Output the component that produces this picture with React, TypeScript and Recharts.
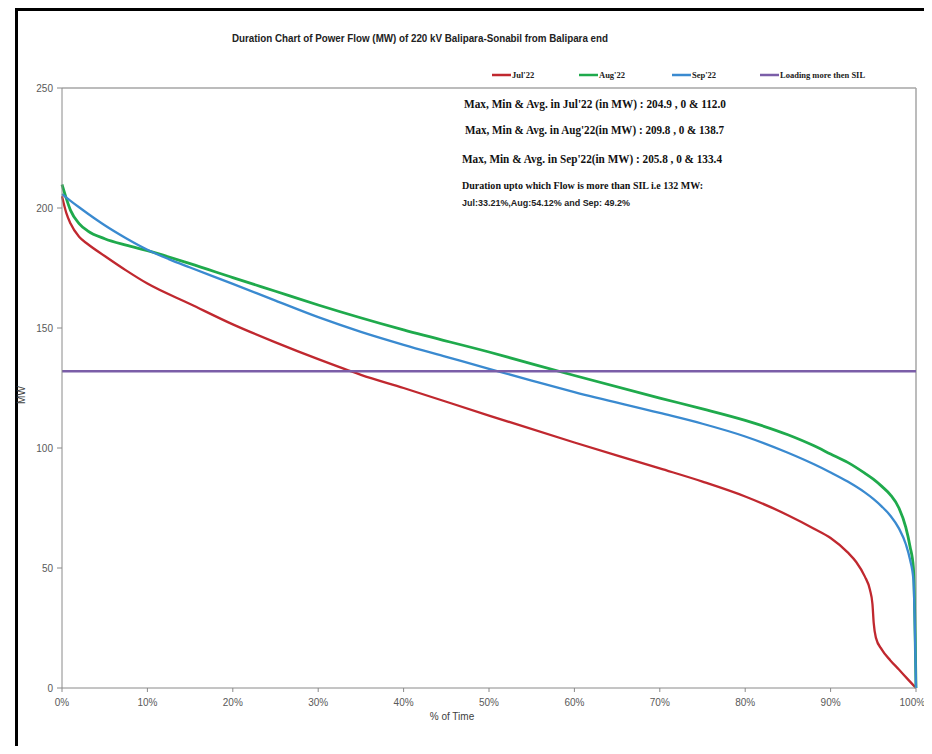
import { LineChart, Line, XAxis, YAxis, ReferenceLine } from 'recharts'

const julPct = [0, 0.5, 1, 2, 3, 5, 7.5, 10, 15, 20, 25, 30, 35, 40, 50, 60, 70, 75, 80, 85, 88, 90, 92, 93, 94, 94.6, 94.9, 95.05, 95.3, 96, 97, 98, 99, 100]
const julMw = [204.9, 198, 193.5, 188, 185, 180, 174, 168.5, 160, 151.5, 144, 137, 130.5, 125, 113.5, 102.3, 91.5, 86, 79.8, 72, 66.5, 62.5, 56.5, 52.5, 46.5, 41, 35, 27, 21, 16, 11.5, 7.7, 3.8, 0]

const augPct = [0, 0.5, 1, 2, 3, 5, 7.5, 10, 15, 20, 25, 30, 40, 50, 60, 70, 75, 80, 85, 88, 90, 92, 94, 95, 96, 97, 98, 98.8, 99.3, 99.7, 100]
const augMw = [209.8, 204, 199, 193.5, 190.5, 187.2, 184.5, 182.2, 176.8, 171, 165.3, 159.6, 149.2, 140, 130.2, 120.8, 116.3, 111.5, 105.5, 101, 97.5, 94, 89.5, 87, 84, 80.5, 75, 67, 59, 50, 0]

const sepPct = [0, 1, 2, 3, 4, 5, 7.5, 10, 12.5, 15, 20, 25, 30, 35, 40, 45, 50, 55, 60, 70, 75, 80, 85, 88, 90, 92, 94, 95, 96, 97, 98, 98.8, 99.3, 99.7, 100]
const sepMw = [205.8, 203, 200.3, 197.7, 195.2, 192.8, 187.4, 182.6, 178.7, 175.2, 168.4, 161.4, 154.5, 148.4, 143, 138, 133, 128.1, 123.3, 114.6, 110.1, 104.8, 98, 93.3, 89.8, 86, 81.5, 78.8, 75.6, 71.8, 66.5, 60, 53.5, 45, 0]

const silPct = [0, 100]
const silMw = [132, 132]

const xTicks = [0, 10, 20, 30, 40, 50, 60, 70, 80, 90, 100]
const yTicks = [0, 50, 100, 150, 200, 250]

const toRows = (xs: number[], ys: number[]) => xs.map((x, i) => ({ x, y: ys[i] }))

const julData = toRows(julPct, julMw)
const augData = toRows(augPct, augMw)
const sepData = toRows(sepPct, sepMw)
const silData = toRows(silPct, silMw)

const RED = '#c0282f'
const GREEN = '#1faa4c'
const BLUE = '#3a8ad0'
const PURPLE = '#7b5ea8'

const legendItems = [
  { label: "Jul'22", color: RED, x: 484 },
  { label: "Aug'22", color: GREEN, x: 571 },
  { label: "Sep'22", color: BLUE, x: 664 },
  { label: 'Loading more then SIL', color: PURPLE, x: 752 },
]

const tickStyle = { fill: '#595959', fontSize: 10, fontFamily: 'Liberation Sans, Arial, sans-serif' }

export default function App() {
  // container sits at the very top of the page (body margin cancelled) so the frame fits
  return (
    <div style={{ position: 'relative', width: 916, height: 746, marginTop: -8, background: '#fff' }}>
      <LineChart width={916} height={746} margin={{ top: 88, right: 8, bottom: 28, left: 14 }}>
        <XAxis
          type="number"
          dataKey="x"
          domain={[0, 100]}
          ticks={xTicks}
          tickFormatter={(v) => `${v}%`}
          height={30}
          stroke="#8a8a8a"
          tickSize={4}
          tickMargin={7}
          tick={tickStyle}
          allowDuplicatedCategory={false}
        />
        <YAxis
          type="number"
          domain={[0, 250]}
          ticks={yTicks}
          width={40}
          stroke="#8a8a8a"
          tickSize={5}
          tickMargin={4}
          tick={tickStyle}
        />
        <ReferenceLine y={250} stroke="#a6a6a6" strokeWidth={1.5} />
        <ReferenceLine x={100} stroke="#a6a6a6" strokeWidth={1.5} />
        <Line data={julData} dataKey="y" type="monotone" stroke={RED} strokeWidth={2.3} dot={false} isAnimationActive={false} />
        <Line data={augData} dataKey="y" type="monotone" stroke={GREEN} strokeWidth={2.8} dot={false} isAnimationActive={false} />
        <Line data={sepData} dataKey="y" type="monotone" stroke={BLUE} strokeWidth={2.3} dot={false} isAnimationActive={false} />
        <Line data={silData} dataKey="y" type="linear" stroke={PURPLE} strokeWidth={2.5} dot={false} isAnimationActive={false} />
      </LineChart>

      <svg
        width={924}
        height={746}
        style={{ position: 'absolute', left: 0, top: 0, pointerEvents: 'none', overflow: 'visible' }}
      >
        {/* outer frame */}
        <line x1={8.5} x2={8.5} y1={8} y2={746} stroke="#000" strokeWidth={3} />
        <line x1={7} x2={924} y1={9.5} y2={9.5} stroke="#000" strokeWidth={3} />

        <text
          x={224}
          y={42}
          fontFamily="Liberation Sans, Arial, sans-serif"
          fontWeight="bold"
          fontSize={11}
          fill="#222"
          textLength={376}
          lengthAdjust="spacingAndGlyphs"
        >
          Duration Chart of Power Flow (MW)  of 220 kV Balipara-Sonabil from Balipara  end
        </text>

        {legendItems.map((it) => (
          <g key={it.label}>
            <line x1={it.x} x2={it.x + 19} y1={75} y2={75} stroke={it.color} strokeWidth={2.5} />
            <text
              x={it.x + 20}
              y={78}
              fontFamily="Liberation Serif, Times New Roman, serif"
              fontWeight="bold"
              fontSize={8.5}
              fill="#222"
            >
              {it.label}
            </text>
          </g>
        ))}

        <g fontFamily="Liberation Serif, Times New Roman, serif" fontWeight="bold" fill="#111">
          <text x={456} y={108} fontSize={11.5} textLength={262} lengthAdjust="spacingAndGlyphs">
            Max, Min &amp; Avg. in  Jul'22 (in MW) : 204.9 , 0  &amp; 112.0
          </text>
          <text x={457} y={134} fontSize={11.5} textLength={259} lengthAdjust="spacingAndGlyphs">
            Max, Min &amp; Avg. in Aug'22(in MW) : 209.8 , 0  &amp; 138.7
          </text>
          <text x={454} y={163} fontSize={11.5} textLength={260} lengthAdjust="spacingAndGlyphs">
            Max, Min &amp; Avg. in Sep'22(in MW) : 205.8 , 0  &amp; 133.4
          </text>
          <text x={454} y={189} fontSize={9.5} textLength={241} lengthAdjust="spacingAndGlyphs">
            Duration upto which Flow is more than SIL i.e 132 MW:
          </text>
        </g>
        <text
          x={454}
          y={206}
          fontFamily="Liberation Sans, Arial, sans-serif"
          fontWeight="bold"
          fontSize={8.5}
          fill="#222"
          textLength={168}
          lengthAdjust="spacingAndGlyphs"
        >
          Jul:33.21%,Aug:54.12% and Sep: 49.2%
        </text>

        <text
          x={14}
          y={395}
          transform="rotate(-90 14 395)"
          textAnchor="middle"
          dominantBaseline="middle"
          fontFamily="Liberation Sans, Arial, sans-serif"
          fontSize={10}
          fill="#404040"
        >
          MW
        </text>
        <text
          x={444}
          y={720}
          textAnchor="middle"
          fontFamily="Liberation Sans, Arial, sans-serif"
          fontSize={10}
          fill="#404040"
        >
          % of Time
        </text>
      </svg>
    </div>
  )
}
